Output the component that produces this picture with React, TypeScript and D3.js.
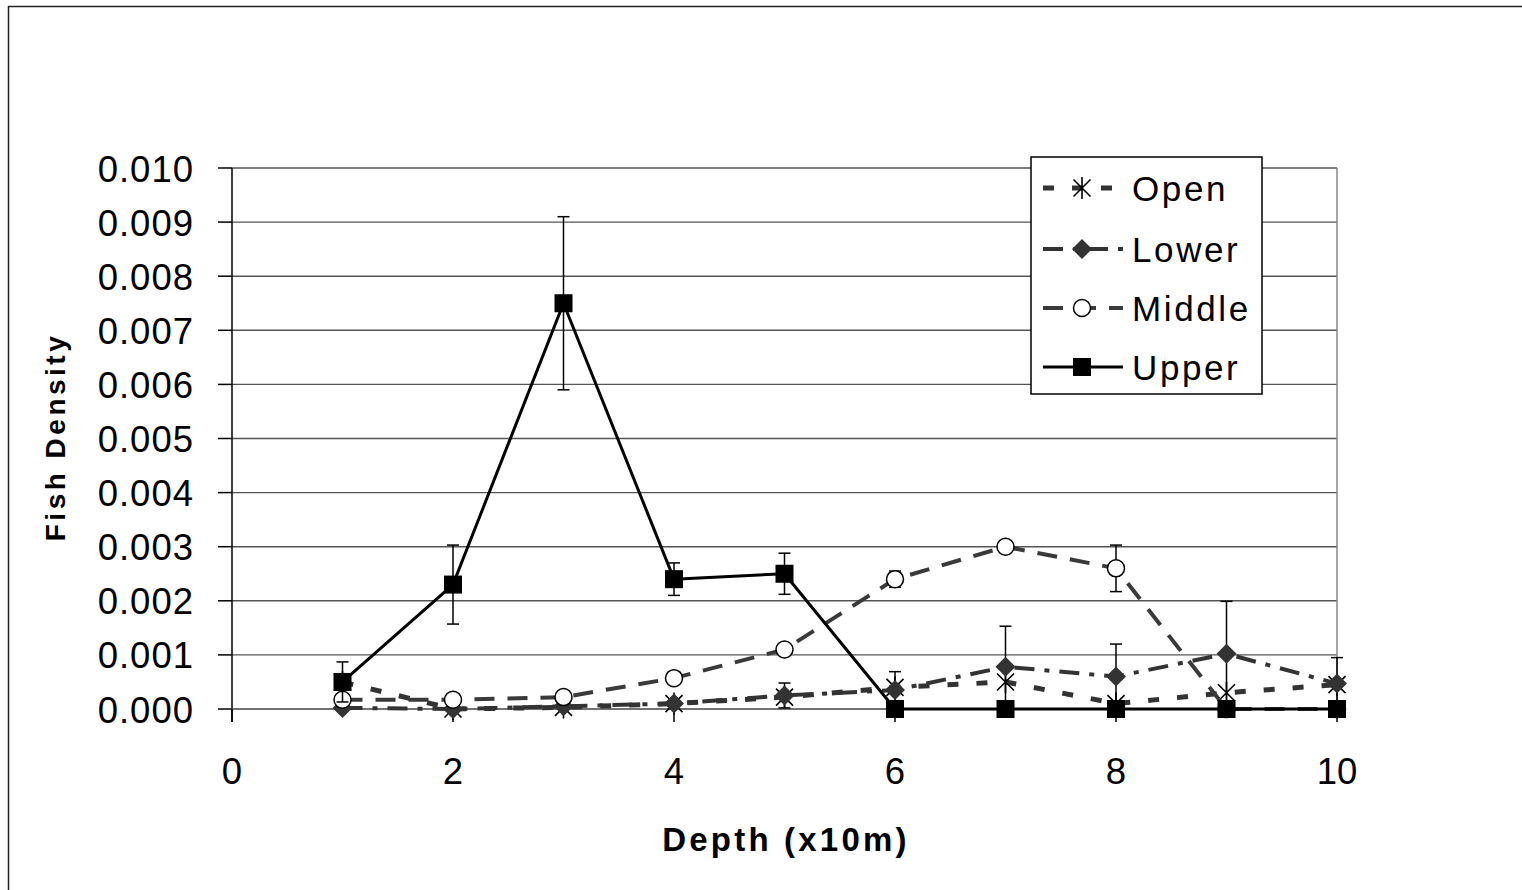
import React from "react";
import * as d3 from "d3";

const depths = [1, 2, 3, 4, 5, 6, 7, 8, 9, 10];
const openVals = [0.0005, 0.0, 0.00003, 0.0001, 0.00022, 0.0004, 0.0005, 0.0001, 0.0003, 0.00045];
const lowerVals = [0.00002, 0.0, 0.00005, 0.0001, 0.00025, 0.00035, 0.00078, 0.0006, 0.00102, 0.00047];
const middleVals = [0.00017, 0.00017, 0.00022, 0.00057, 0.0011, 0.0024, 0.003, 0.0026, 0.0, 0.0];
const upperVals = [0.0005, 0.0023, 0.0075, 0.0024, 0.0025, 0, 0, 0, 0, 0];

const openErr = [0, 0, 0, 0, 0, 0, 0, 0, 0, 0];
const lowerErr = [0, 0, 0, 0, 0.00023, 0.00034, 0.00075, 0.0006, 0.00097, 0.00048];
const middleErr = [0, 0, 0, 0, 0, 0.00015, 0, 0.00043, 0, 0];
const upperErr = [0.00037, 0.00073, 0.0016, 0.0003, 0.00038, 0, 0, 0, 0, 0];

const yTicks = [0, 0.001, 0.002, 0.003, 0.004, 0.005, 0.006, 0.007, 0.008, 0.009, 0.01];
const xTicks = [0, 2, 4, 6, 8, 10];
const seriesNames = ["Open", "Lower", "Middle", "Upper"];

const FONT = "'Liberation Sans', Arial, sans-serif";

const x = d3.scaleLinear().domain([0, 10]).range([232, 1337]);
const y = d3.scaleLinear().domain([0, 0.01]).range([709, 168]);

type Style = { stroke: string; width: number; dash: string; marker: string };
const styles: Style[] = [
  { stroke: "#333", width: 5, dash: "11 18", marker: "asterisk" },
  { stroke: "#333", width: 4, dash: "20 10 5 10", marker: "diamond" },
  { stroke: "#3a3a3a", width: 4, dash: "20 13", marker: "circle" },
  { stroke: "#000", width: 3, dash: "", marker: "square" },
];
const allVals = [openVals, lowerVals, middleVals, upperVals];
const allErr = [openErr, lowerErr, middleErr, upperErr];

function Marker({ kind, cx, cy }: { kind: string; cx: number; cy: number }) {
  if (kind === "square") return <rect x={cx - 9} y={cy - 9} width={18} height={18} fill="#000" />;
  if (kind === "circle") return <circle cx={cx} cy={cy} r={8.5} fill="#fff" stroke="#000" strokeWidth={1.5} />;
  if (kind === "diamond")
    return <path d={`M${cx},${cy - 10}L${cx + 10},${cy}L${cx},${cy + 10}L${cx - 10},${cy}Z`} fill="#333" />;
  const r = 11;
  const a = 8.5;
  return (
    <path
      d={`M${cx},${cy - r}V${cy + r}M${cx - a},${cy - a}L${cx + a},${cy + a}M${cx - a},${cy + a}L${cx + a},${cy - a}`}
      stroke="#000"
      strokeWidth={1.6}
      fill="none"
    />
  );
}

export default function App() {
  const line = d3
    .line<number>()
    .x((_, i) => x(depths[i]))
    .y((v) => y(v));

  const legendY = [188, 249, 308, 367];

  return (
    <svg width={1522} height={890} style={{ position: "absolute", left: 0, top: 0, background: "#fff" }}>
      <rect x={0} y={0} width={1522} height={890} fill="#fff" />
      <rect x={8.5} y={6.5} width={1600} height={1000} fill="none" stroke="#222" strokeWidth={1.5} />

      {/* gridlines */}
      {yTicks.slice(1).map((t) => (
        <line key={t} x1={x(0)} x2={x(10)} y1={y(t)} y2={y(t)} stroke="#555" strokeWidth={1.4} />
      ))}
      <line x1={x(10)} x2={x(10)} y1={y(0.01)} y2={y(0)} stroke="#888" strokeWidth={1.5} />
      {/* y axis */}
      <line x1={x(0)} x2={x(0)} y1={y(0.01)} y2={722} stroke="#000" strokeWidth={1.5} />
      {yTicks.map((t) => (
        <g key={"yt" + t}>
          <line x1={218} x2={x(0)} y1={y(t)} y2={y(t)} stroke="#000" strokeWidth={1.5} />
          <text x={194} y={y(t) + 13.5} textAnchor="end" fontFamily={FONT} fontSize={36.5} letterSpacing={1} fill="#000">
            {d3.format(".3f")(t)}
          </text>
        </g>
      ))}
      {/* x axis */}
      <line x1={218} x2={x(10)} y1={y(0)} y2={y(0)} stroke="#444" strokeWidth={1.6} />
      {xTicks.map((t) => (
        <g key={"xt" + t}>
          <line x1={x(t)} x2={x(t)} y1={y(0)} y2={722} stroke="#000" strokeWidth={1.5} />
          <text x={x(t)} y={784} textAnchor="middle" fontFamily={FONT} fontSize={36.5} fill="#000">
            {t}
          </text>
        </g>
      ))}

      {/* axis titles */}
      <text x={786} y={851} textAnchor="middle" fontFamily={FONT} fontSize={33} fontWeight="bold" letterSpacing={3.2} fill="#000">
        Depth (x10m)
      </text>
      <text
        transform={`translate(64.5,437) rotate(-90)`}
        textAnchor="middle"
        fontFamily={FONT}
        fontSize={28}
        fontWeight="bold"
        letterSpacing={3.5}
        fill="#000"
      >
        Fish Density
      </text>

      {/* series */}
      {allVals.map((vals, si) => {
        const st = styles[si];
        return (
          <g key={"s" + si}>
            <path
              d={line(vals) || ""}
              fill="none"
              stroke={st.stroke}
              strokeWidth={st.width}
              strokeDasharray={st.dash || undefined}
              strokeLinejoin="round"
            />
            {vals.map((v, i) => {
              const e = allErr[si][i];
              if (!e) return null;
              const cx = x(depths[i]);
              return (
                <g key={"e" + i} stroke="#000" strokeWidth={1.5}>
                  <line x1={cx} x2={cx} y1={y(v + e)} y2={y(v - e)} />
                  <line x1={cx - 6} x2={cx + 6} y1={y(v + e)} y2={y(v + e)} />
                  <line x1={cx - 6} x2={cx + 6} y1={y(v - e)} y2={y(v - e)} />
                </g>
              );
            })}
            {vals.map((v, i) => (
              <Marker key={"m" + i} kind={st.marker} cx={x(depths[i])} cy={y(v)} />
            ))}
          </g>
        );
      })}

      {/* legend */}
      <rect x={1031} y={157} width={231} height={237} fill="#fff" stroke="#000" strokeWidth={1.5} />
      {seriesNames.map((name, i) => {
        const st = styles[i];
        const ly = legendY[i];
        return (
          <g key={"l" + name}>
            <line
              x1={1043}
              x2={1123}
              y1={ly}
              y2={ly}
              stroke={st.stroke}
              strokeWidth={st.width}
              strokeDasharray={st.dash || undefined}
            />
            <Marker kind={st.marker} cx={1082} cy={ly} />
            <text x={1132} y={ly + 12.5} fontFamily={FONT} fontSize={35} letterSpacing={2.6} fill="#000">
              {name}
            </text>
          </g>
        );
      })}
    </svg>
  );
}
